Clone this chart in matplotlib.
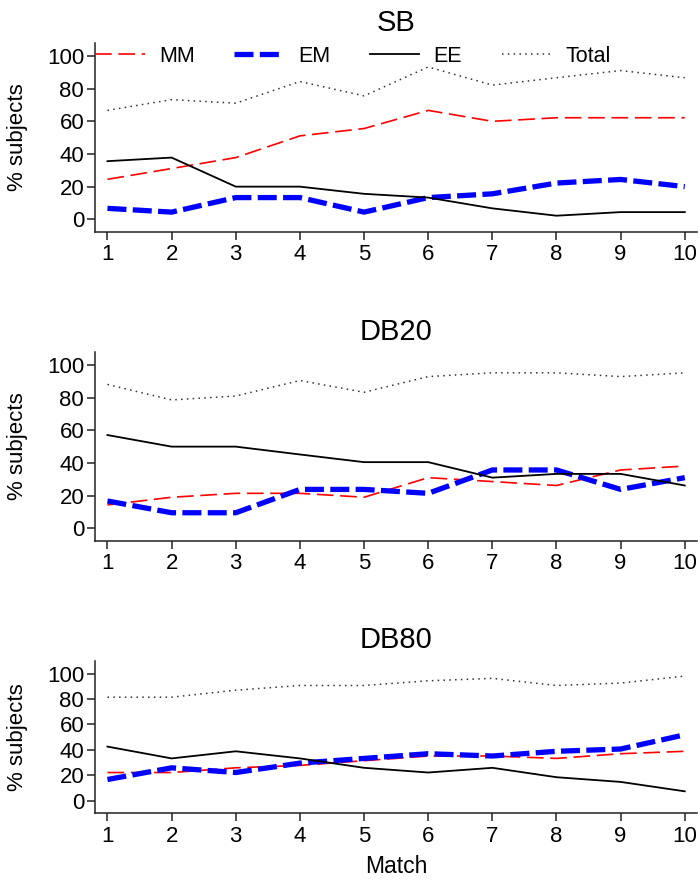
import matplotlib
matplotlib.use("Agg")
import matplotlib.pyplot as plt
import matplotlib.transforms as mtransforms

plt.rcParams['font.family'] = ['Liberation Sans', 'DejaVu Sans']

matches = [1, 2, 3, 4, 5, 6, 7, 8, 9, 10]
panels = ["SB", "DB20", "DB80"]

# % subjects per match
sb_mm = [24.5, 31.1, 37.8, 51.1, 55.6, 66.7, 60.0, 62.2, 62.2, 62.2]
sb_em = [6.7, 4.4, 13.3, 13.3, 4.4, 13.3, 15.6, 22.2, 24.4, 20.0]
sb_ee = [35.6, 37.8, 20.0, 20.0, 15.6, 13.3, 6.7, 2.2, 4.4, 4.4]
sb_total = [66.7, 73.3, 71.1, 84.4, 75.6, 93.3, 82.2, 86.7, 91.1, 86.7]

db20_mm = [14.3, 19.0, 21.4, 21.4, 19.0, 31.0, 28.6, 26.2, 35.7, 38.1]
db20_em = [16.7, 9.5, 9.5, 23.8, 23.8, 21.4, 35.7, 35.7, 23.8, 31.0]
db20_ee = [57.1, 50.0, 50.0, 45.2, 40.5, 40.5, 31.0, 33.3, 33.3, 26.2]
db20_total = [88.1, 78.6, 81.0, 90.5, 83.3, 92.9, 95.2, 95.2, 92.9, 95.2]

db80_mm = [22.2, 22.2, 25.9, 27.8, 31.5, 35.2, 35.2, 33.3, 37.0, 38.9]
db80_em = [16.7, 25.9, 22.2, 29.6, 33.3, 37.0, 35.2, 38.9, 40.7, 51.9]
db80_ee = [42.6, 33.3, 38.9, 33.3, 25.9, 22.2, 25.9, 18.5, 14.8, 7.4]
db80_total = [81.5, 81.5, 87.0, 90.7, 90.7, 94.4, 96.3, 90.7, 92.6, 98.1]

series = {
    "SB": (sb_mm, sb_em, sb_ee, sb_total),
    "DB20": (db20_mm, db20_em, db20_ee, db20_total),
    "DB80": (db80_mm, db80_em, db80_ee, db80_total),
}

# axes boxes in figure fraction: left, bottom, width, height
boxes = {
    "SB": [0.1365, 0.7367, 0.862, 0.2141],
    "DB20": [0.1365, 0.3856, 0.862, 0.2141],
    "DB80": [0.1365, 0.0758, 0.862, 0.1731],
}
ylims = {"SB": (-7.6, 107.8), "DB20": (-7.6, 107.8), "DB80": (-9.9, 110)}

fig = plt.figure(figsize=(6.98, 8.8), dpi=100)

for name in panels:
    mm, em, ee, total = series[name]
    ax = fig.add_axes(boxes[name])
    ax.plot(matches, mm, color="red", lw=1.2, dashes=(10, 4), label="MM")
    ax.plot(matches, em, color="blue", lw=3.8, dashes=(3.6, 1.2), label="EM")
    ax.plot(matches, ee, color="black", lw=1.3, label="EE")
    ax.plot(matches, total, color="#333333", lw=1.1, dashes=(1, 2.8), label="Total")

    ax.set_xlim(0.81, 10.19)
    ax.set_ylim(*ylims[name])
    ax.set_xticks(matches)
    ax.set_yticks([0, 20, 40, 60, 80, 100])
    for s in ["top", "right"]:
        ax.spines[s].set_visible(False)
    for s in ["left", "bottom"]:
        ax.spines[s].set_linewidth(1.1)
        ax.spines[s].set_color("#222222")
    ax.tick_params(axis="both", labelsize=16, width=1.1, color="#222222")
    ax.tick_params(axis="x", length=6, pad=3)
    ax.tick_params(axis="y", length=6, pad=2)
    ax.set_title(name, fontsize=21, pad=9)
    ax.set_ylabel("% subjects", fontsize=16)
    ax.yaxis.set_label_coords(-0.112, 0.5)

    if name == "SB":
        # legend sits on the 100 line, starting at the y axis
        trans = mtransforms.blended_transform_factory(ax.transAxes, ax.transData)
        ax.legend(loc="center left", bbox_to_anchor=(0.0, 100), bbox_transform=trans,
                  ncol=4, frameon=False, fontsize=15.5, handlelength=2.3,
                  handletextpad=0.65, columnspacing=1.85,
                  borderpad=0, borderaxespad=0)
    if name == "DB80":
        ax.set_xlabel("Match", fontsize=16.5, labelpad=6)

fig.savefig("out.png", dpi=100)
plt.close(fig)
